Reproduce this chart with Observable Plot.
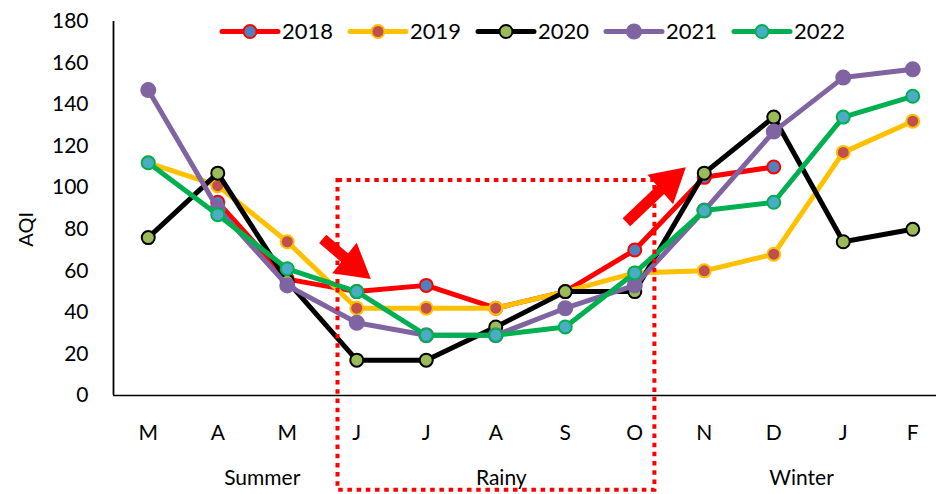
<!DOCTYPE html>
<html><head><meta charset="utf-8">
<script src="https://cdn.jsdelivr.net/npm/d3@7"></script>
<script src="https://cdn.jsdelivr.net/npm/@observablehq/plot@0.6"></script>
<style>body{margin:0;background:#fff;} #chart{width:936px;height:494px;overflow:hidden}</style>
</head><body><div id="chart"></div>
<script>
const months = ["M","A","M","J","J","A","S","O","N","D","J","F"];
const years = ["2018","2019","2020","2021","2022"];
const aqi2018 = [null,93,56,50,53,42,50,70,105,110,null,null];
const aqi2019 = [112,101,74,42,42,42,50,59,60,68,117,132];
const aqi2020 = [76,107,55,17,17,33,50,50,107,134,74,80];
const aqi2021 = [147,90,53,35,29,29,42,53,89,127,153,157];
const aqi2022 = [112,87,61,50,29,29,33,59,89,93,134,144];
const lineColors = ["#FF0000","#FFC000","#000000","#8064A2","#00B050"];
const markerFills = ["#4F81BD","#C0504D","#9BBB59","#8064A2","#4BACC6"];
const yTicks = [0,20,40,60,80,100,120,140,160,180];
const seasons = ["Summer","Rainy","Winter"];
const seasonX = [1.64, 5.08, 9.4];
// annotation (data units: month index, AQI)
const rainyBox = [{x1:2.73, x2:7.29, y1:-45.6, y2:103.5}];
const arrows = [
  {x1:2.51, y1:75.4, x2:2.95, y2:62.8, angle:128.7},
  {x1:6.88, y1:83.4, x2:7.49, y2:102.7, angle:49.1}
];

const series = [aqi2018, aqi2019, aqi2020, aqi2021, aqi2022];
const table = years.flatMap((yr, s) => series[s].map((v, i) => ({year: yr, s, i, aqi: v})));

const marks = [
  Plot.ruleY([0], {stroke: "black", strokeWidth: 1.5}),
  Plot.ruleX([-0.5], {y1: 0, y2: 180, stroke: "black", strokeWidth: 1.8}),
  Plot.axisY(yTicks, {tickSize: 0, tickPadding: 25, fontSize: 21, label: null}),
  Plot.axisX(d3.range(12), {tickSize: 0, tickPadding: 30, fontSize: 21, tickFormat: i => months[i], label: null}),
  Plot.text(["AQI"], {x: -1.75, y: 80, rotate: -90, fontSize: 20, textAnchor: "middle", lineAnchor: "middle"}),
  Plot.text(seasons, {x: (d, k) => seasonX[k], y: -40, text: d => d, fontSize: 21, textAnchor: "middle", lineAnchor: "middle"})
];
years.forEach((yr, s) => {
  const rows = table.filter(d => d.s === s);
  marks.push(Plot.line(rows, {x: "i", y: d => d.aqi == null ? NaN : d.aqi, stroke: lineColors[s], strokeWidth: 5, curve: "linear"}));
  marks.push(Plot.dot(rows.filter(d => d.aqi != null), {x: "i", y: "aqi", r: s === 3 ? 7 : 6.5, fill: markerFills[s], stroke: lineColors[s], strokeWidth: 2}));
});
marks.push(Plot.rect(rainyBox, {x1: "x1", x2: "x2", y1: "y1", y2: "y2", fill: "none", stroke: "#FF0000", strokeWidth: 4, strokeDasharray: "4.5 4.7"}));
marks.push(Plot.link(arrows, {x1: "x1", y1: "y1", x2: "x2", y2: "y2", stroke: "#FF0000", strokeWidth: 11, strokeLinecap: "butt"}));
marks.push(Plot.dot(arrows, {x: "x2", y: "y2", symbol: "triangle", r: 14.5, fill: "#FF0000", stroke: "none", rotate: "angle"}));

const chart = Plot.plot({
  width: 936, height: 494,
  marginLeft: 113, marginRight: 0, marginTop: 20, marginBottom: 99,
  style: {fontFamily: "Lato, 'Open Sans', sans-serif", fontSize: "20px", color: "black", background: "white", overflow: "visible"},
  x: {type: "linear", domain: [-0.5, 11.5], range: [113, 947]},
  y: {domain: [0, 180], range: [395, 21]},
  clip: false,
  marks
});

// legend
const svg = d3.select(chart);
const lg = svg.append("g").attr("font-family", "Lato, sans-serif").attr("font-size", 22).attr("text-anchor", "start");
years.forEach((yr, s) => {
  const x0 = 222 + s * 128, yc = 31.5;
  const g = lg.append("g");
  g.append("line").attr("x1", x0).attr("x2", x0 + 56).attr("y1", yc).attr("y2", yc)
    .attr("stroke", lineColors[s]).attr("stroke-width", 5).attr("stroke-linecap", "round");
  g.append("circle").attr("cx", x0 + 28).attr("cy", yc).attr("r", s === 3 ? 7 : 6.5)
    .attr("fill", markerFills[s]).attr("stroke", lineColors[s]).attr("stroke-width", 2);
  g.append("text").attr("x", x0 + 60).attr("y", yc).attr("dy", "0.36em").attr("fill", "black")
    .style("text-anchor", "start").style("font-size", "22px").text(yr);
});
document.getElementById("chart").append(chart);
</script>
</body></html>
